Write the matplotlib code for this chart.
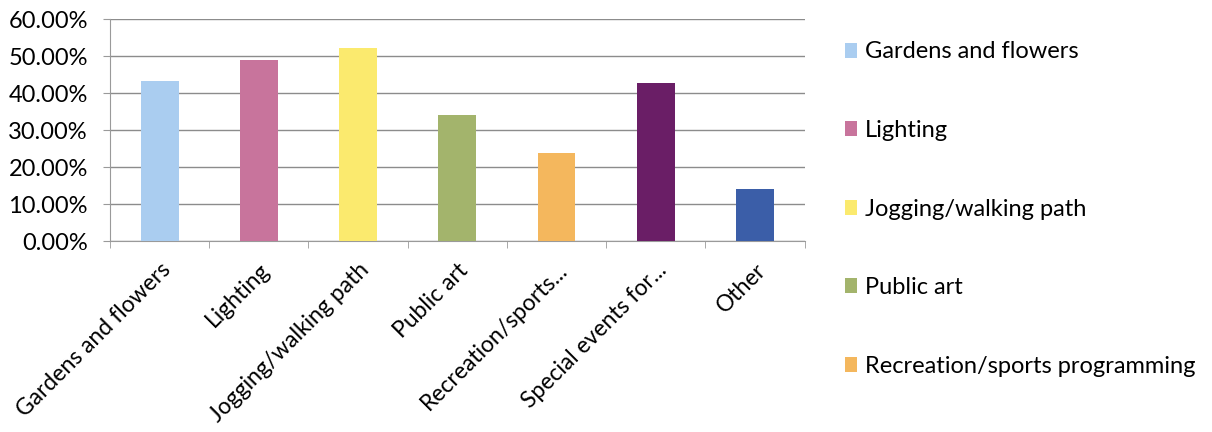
import matplotlib.pyplot as plt
from matplotlib.patches import Patch
from matplotlib.ticker import PercentFormatter

plt.rcParams['font.family'] = ['Lato', 'DejaVu Sans']

categorias = ["Gardens and flowers", "Lighting", "Jogging/walking path", "Public art",
              "Recreation/sports programming", "Special events for...", "Other"]
etiquetas_x = ["Gardens and flowers", "Lighting", "Jogging/walking path", "Public art",
               "Recreation/sports...", "Special events for...", "Other"]
valores = [43.3, 49.0, 52.2, 34.1, 23.9, 42.7, 14.1]
colores = ["#aacdf0", "#c8749c", "#fbea6e", "#a3b46c", "#f4b75d", "#6a1e66", "#3b5ea8"]

fig = plt.figure(figsize=(12.12, 4.32), dpi=100)
ax = fig.add_axes([0.0908, 0.4414, 0.573, 0.5146])

x = range(len(valores))
ax.bar(x, valores, width=0.38, color=colores, zorder=3)

ax.set_ylim(0, 60)
ax.set_xlim(-0.5, len(valores) - 0.5)
ax.set_yticks(range(0, 61, 10))
ax.yaxis.set_major_formatter(PercentFormatter(decimals=2))
ax.grid(axis="y", color="#8c8c8c", linewidth=1.0, zorder=0)

ax.set_xticks(list(x))
ax.set_xticklabels(etiquetas_x, rotation=45, ha="right", rotation_mode="anchor")
ax.tick_params(axis="x", length=0, labelsize=16.5, pad=13)
ax.set_xticks([i - 0.5 for i in range(len(valores) + 1)], minor=True)
ax.tick_params(axis="x", which="minor", length=5, color="#9a9a9a", direction="out")
ax.tick_params(axis="y", length=5, color="#9a9a9a", labelsize=17, pad=11)

for lado in ["top", "right"]:
    ax.spines[lado].set_visible(False)
for lado in ["left", "bottom"]:
    ax.spines[lado].set_color("#9a9a9a")

# la leyenda del original solo muestra las 5 primeras categorías
handles = [Patch(facecolor=colores[i], label=categorias[i]) for i in range(5)]
fig.legend(handles=handles, loc="upper left", bbox_to_anchor=(0.689, 0.926),
           frameon=False, fontsize=17, handlelength=0.55, handleheight=0.6,
           handletextpad=0.3, labelspacing=2.44, borderaxespad=0)

plt.savefig("out.png", dpi=100)
plt.close()
